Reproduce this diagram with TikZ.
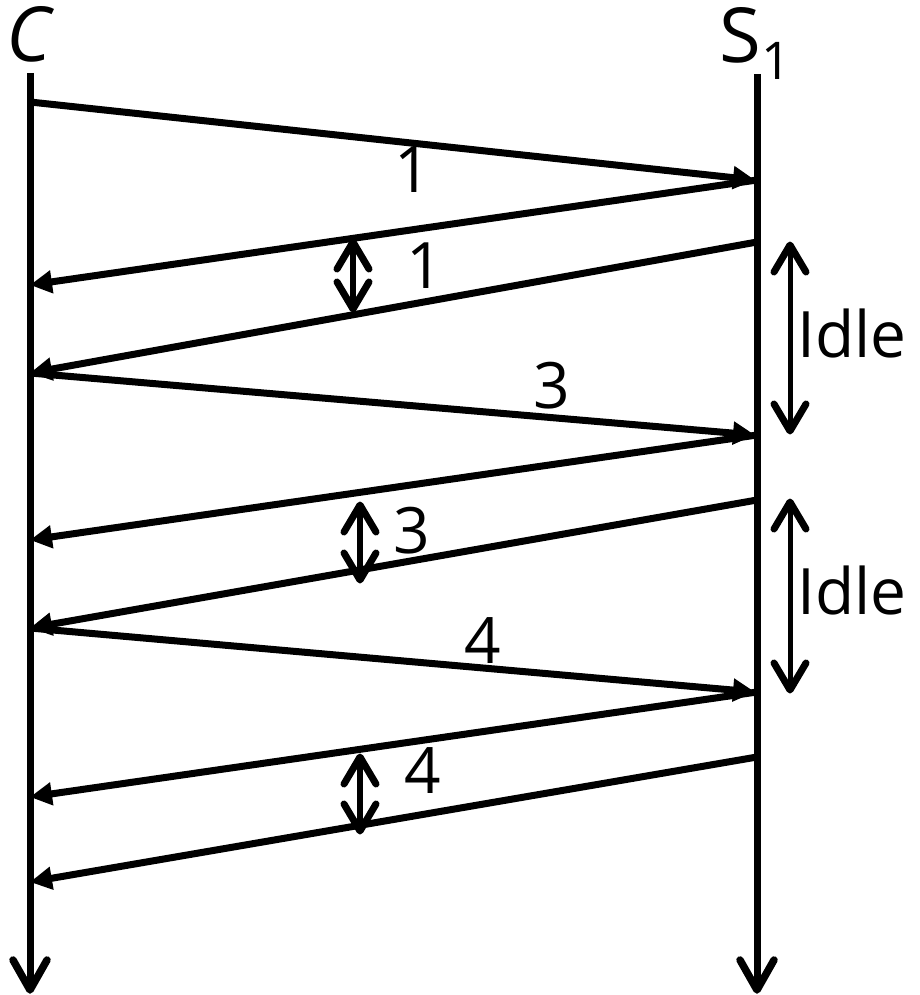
\documentclass[tikz,border=0pt]{standalone}
\usepackage{fontspec}
\setmainfont{Open Sans}
\usetikzlibrary{arrows.meta}
\begin{document}
\begin{tikzpicture}[x=1pt,y=-1pt,
  timeline/.style={line width=7pt},
  msg/.style={line width=7pt,-{Triangle[length=22pt,width=22pt]}},
  gap/.style={line width=5.5pt},
  idle/.style={line width=5pt},
  barbup/.pic={\draw[line width=7pt,line cap=round,line join=round] (-16,27) -- (0,0) -- (16,27);},
  barbdown/.pic={\draw[line width=7pt,line cap=round,line join=round] (-16,-27) -- (0,0) -- (16,-27);},
  tlbarb/.pic={\draw[line width=7.5pt,line cap=round,line join=round] (-17,-30) -- (0,0) -- (17,-30);},
  lbl/.style={anchor=base,inner sep=0pt,font=\fontsize{64}{64}\selectfont},
  ttl/.style={anchor=base,inner sep=0pt,font=\fontsize{76}{76}\selectfont}]
\useasboundingbox (0,0) rectangle (920,995);
% titles
\node[ttl,font=\fontsize{76}{76}\selectfont\itshape] (C) at (29,62) {C};
\node[ttl] (S) at (755,63) {S\raisebox{-17pt}{\fontsize{52}{52}\selectfont 1}};
% timeline ends
\coordinate (Ctop) at (30,73);
\coordinate (Cbot) at (30,990);
\coordinate (Stop) at (757,74);
\coordinate (Sbot) at (757,990);
\draw[timeline] (Ctop) -- (Cbot);
\draw[timeline] (Stop) -- (Sbot);
\pic at (Cbot) {tlbarb};
\pic at (Sbot) {tlbarb};
% events
\coordinate (c1) at (30,102);
\coordinate (c2) at (30,285);
\coordinate (c3) at (30,373);
\coordinate (c4) at (30,540);
\coordinate (c5) at (30,628);
\coordinate (c6) at (30,797);
\coordinate (c7) at (30,882);
\coordinate (s1) at (755,180);
\coordinate (s2) at (757,242);
\coordinate (s3) at (755,435);
\coordinate (s4) at (757,500);
\coordinate (s5) at (755,692);
\coordinate (s6) at (757,757);
\coordinate (s1o) at (757,180);
\coordinate (s3o) at (757,435);
\coordinate (s5o) at (757,692);
% messages
\draw[msg] (c1) -- (s1);
\draw[msg] (s1o) -- (c2);
\draw[msg] (s2) -- (c3);
\draw[msg] (c3) -- (s3);
\draw[msg] (s3o) -- (c4);
\draw[msg] (s4) -- (c5);
\draw[msg] (c5) -- (s5);
\draw[msg] (s5o) -- (c6);
\draw[msg] (s6) -- (c7);
% labels
\node[lbl] (l1) at (413,193) {1};
\node[lbl] (l2) at (425,288) {1};
\node[lbl] (l3) at (552,408) {3};
\node[lbl] (l4) at (412,553) {3};
\node[lbl] (l5) at (483,663) {4};
\node[lbl] (l6) at (423,793) {4};
% gap arrows
\coordinate (g1a) at (353,242);
\coordinate (g1b) at (353,309);
\coordinate (g2a) at (360,505);
\coordinate (g2b) at (360,580);
\coordinate (g3a) at (360,757);
\coordinate (g3b) at (360,831);
\draw[gap] (g1a) -- (g1b);
\draw[gap] (g2a) -- (g2b);
\draw[gap] (g3a) -- (g3b);
\foreach \g in {g1,g2,g3} {
  \pic at (\g a) {barbup};
  \pic at (\g b) {barbdown};
}
% idle
\coordinate (i1a) at (790,245);
\coordinate (i1b) at (790,431);
\coordinate (i2a) at (790,502);
\coordinate (i2b) at (790,690);
\draw[idle] (i1a) -- (i1b);
\draw[idle] (i2a) -- (i2b);
\foreach \g in {i1,i2} {
  \pic at (\g a) {barbup};
  \pic at (\g b) {barbdown};
}
\node[lbl,anchor=base west] (idle1) at (797,357) {Idle};
\node[lbl,anchor=base west] (idle2) at (797,614) {Idle};
\end{tikzpicture}
\end{document}
